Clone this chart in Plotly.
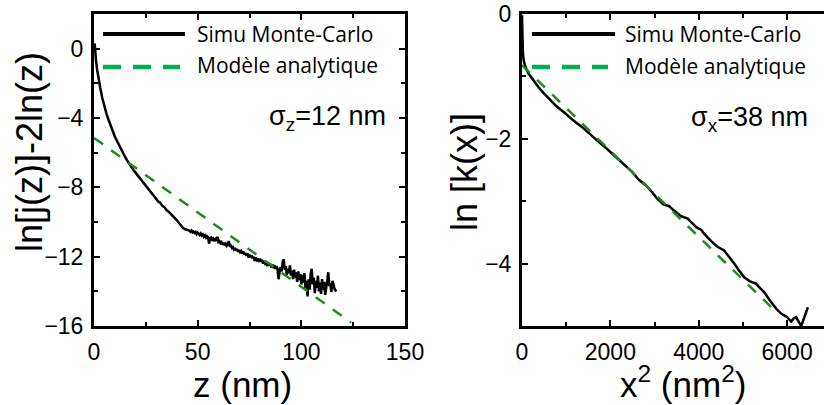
import plotly.graph_objects as go

# ---------------- data ----------------
# Left panel: ln[j(z)] - 2 ln(z) vs z (nm)
z_sim = [0.3, 0.6, 1.0, 1.5, 2.0, 3.0, 4.0, 5.0, 6.0, 7.0, 8.0, 9.0, 10, 11, 12, 13, 14, 15, 16, 17, 18, 19,
         20, 21, 22, 23, 24, 25, 26, 27, 28, 29, 30, 31, 32, 33, 34, 35, 36, 37, 38, 39, 40, 41, 42, 43, 44, 45,
         46, 46.5, 47, 47.5, 48, 48.5, 49, 49.5, 50, 50.5, 51, 51.5, 52, 52.5, 53, 53.5, 54, 54.5, 55, 55.5,
         56, 56.5, 57, 57.5, 58, 58.5, 59, 59.5, 60, 60.5, 61, 61.5, 62, 62.5, 63, 63.5, 64, 64.5, 65, 65.5,
         66, 66.5, 67, 67.5, 68, 68.5, 69, 69.5, 70, 70.5, 71, 71.5, 72, 72.5, 73, 73.5, 74, 74.5, 75, 75.5,
         76, 76.5, 77, 77.5, 78, 78.5, 79, 79.5, 80, 80.5, 81, 81.5, 82, 82.5, 83, 83.5, 84, 84.5, 85, 85.5,
         86, 86.5, 87, 87.5, 88, 88.5, 89, 89.5, 90, 90.5, 91, 91.5, 92, 92.5, 93, 93.5, 94, 94.5, 95, 95.5,
         96, 96.5, 97, 97.5, 98, 98.5, 99, 99.5, 100, 100.5, 101, 101.5, 102, 102.5, 103, 103.5, 104, 104.5,
         105, 105.5, 106, 106.5, 107, 107.5, 108, 108.5, 109, 109.5, 110, 110.5, 111, 111.5, 112, 112.5,
         113, 113.5, 114, 114.5, 115, 115.5, 116, 116.5, 117]
lnj_sim = [0.3, -0.3, -0.7, -1.2, -1.6, -2.25, -2.85, -3.35, -3.75, -4.1, -4.45, -4.75, -5.05, -5.3, -5.55,
           -5.8, -6.05, -6.25, -6.45, -6.65, -6.83, -7.0, -7.15, -7.3, -7.45, -7.62, -7.75, -7.9, -8.05, -8.2,
           -8.33, -8.52, -8.63, -8.82, -8.9, -9.07, -9.14, -9.32, -9.4, -9.52, -9.61, -9.77, -9.9, -10.06,
           -10.2, -10.35, -10.42, -10.45,
           -10.50, -10.56, -10.49, -10.60, -10.55, -10.63, -10.58, -10.70, -10.62, -10.68, -10.75, -10.66,
           -10.78, -10.72, -10.85, -10.77, -10.90, -10.82, -10.88, -11.25, -10.95, -10.90, -11.02, -10.96,
           -11.10, -11.00, -11.08, -10.85, -11.15, -11.10, -11.22, -11.16, -11.30, -11.20, -11.35, -11.26,
           -11.38, -11.30, -11.10, -11.42, -11.36, -11.50, -11.45, -11.58, -11.50, -11.65, -11.55, -11.72,
           -11.62, -11.75, -11.68, -11.82, -11.70, -11.88, -11.78, -11.95, -11.80, -12.05, -11.90, -12.02,
           -11.92, -12.10, -12.00, -12.25, -12.05, -12.18, -12.10, -12.30, -12.12, -12.28, -12.18, -12.40,
           -12.25, -12.38, -12.30, -12.55, -12.35, -12.50, -12.40, -12.62, -12.45, -12.58, -12.50, -12.70,
           -12.55,
           -12.70, -13.30, -12.90, -12.60, -12.85, -12.30, -12.15, -12.75, -12.55, -13.05, -12.70, -12.95,
           -12.50, -13.10, -12.80, -13.30, -12.75, -13.20, -12.90, -13.45, -12.85, -13.35, -13.00, -13.60,
           -13.05, -13.50, -12.95, -13.80, -13.40, -14.30, -13.30, -13.90, -13.00, -12.70, -13.60, -13.20,
           -14.10, -13.40, -13.80, -13.10, -14.00, -13.50, -14.15, -13.30, -13.90, -13.45, -14.20, -13.60,
           -13.40, -12.90, -13.70, -13.55, -14.05, -13.40, -13.75, -13.85, -13.95, -13.90]
z_model = [0, 124]
lnj_model = [-5.15, -15.8]

# Right panel: ln[k(x)] vs x^2 (nm^2)
x2_sim = [0, 3, 8, 20, 40, 80, 143, 250, 371, 480, 598, 780, 977, 1150, 1356, 1550, 1735, 1920, 2114, 2300,
          2492, 2650, 2795, 2950, 3061, 3200, 3330, 3439, 3600, 3750, 3818, 3950, 4060, 4121, 4280, 4424,
          4576, 4700, 4803, 4920, 5030, 5150, 5295, 5400, 5485, 5600, 5750, 5864, 6000, 6091, 6150, 6205,
          6280, 6318, 6360, 6394, 6470]
lnk_sim = [-0.02, -0.25, -0.45, -0.62, -0.75, -0.85, -0.95, -1.06, -1.17, -1.26, -1.35, -1.48, -1.59, -1.70,
           -1.81, -1.94, -2.05, -2.16, -2.29, -2.41, -2.53, -2.66, -2.74, -2.86, -2.96, -3.05, -3.08, -3.15,
           -3.24, -3.28, -3.33, -3.42, -3.46, -3.52, -3.64, -3.73, -3.79, -3.90, -4.00, -4.12, -4.22, -4.28,
           -4.32, -4.40, -4.46, -4.58, -4.72, -4.80, -4.86, -4.93, -4.88, -4.86, -4.97, -5.00, -4.92, -4.84,
           -4.70]
x2_model = [0, 5790]
lnk_model = [-0.82, -4.80]

# tick values
left_xticks = [0, 50, 100, 150]
left_yticks = [0, -4, -8, -12, -16]
right_xticks = [0, 2000, 4000, 6000]
right_yticks = [0, -2, -4]

legend_labels = ["Simu Monte-Carlo", "Modèle analytique"]

# ---------------- figure ----------------
W, H = 824, 405
def px(x):
    return x / W
def py(y):
    return 1 - y / H

BLACK = "#000000"
GREEN_LINE = "#1a8c1a"
GREEN_KEY = "#00b050"
TICKFONT = dict(family="Liberation Sans, Arial, sans-serif", size=23, color="black")

fig = go.Figure()
fig.add_trace(go.Scatter(x=z_sim, y=lnj_sim, mode="lines", line=dict(color=BLACK, width=2.5),
                         showlegend=False, xaxis="x", yaxis="y"))
fig.add_trace(go.Scatter(x=z_model, y=lnj_model, mode="lines",
                         line=dict(color=GREEN_LINE, width=2.5, dash="11px,10px"),
                         showlegend=False, xaxis="x", yaxis="y"))
fig.add_trace(go.Scatter(x=x2_sim, y=lnk_sim, mode="lines", line=dict(color=BLACK, width=2.5),
                         showlegend=False, xaxis="x2", yaxis="y2"))
fig.add_trace(go.Scatter(x=x2_model, y=lnk_model, mode="lines",
                         line=dict(color=GREEN_LINE, width=2.5, dash="11px,10px"),
                         showlegend=False, xaxis="x2", yaxis="y2"))

axis_common = dict(showgrid=False, zeroline=False, showline=True, linecolor="black", linewidth=3,
                   ticks="inside", ticklen=6, tickwidth=2, tickcolor="black", tickfont=TICKFONT,
                   automargin=False, ticklabelstandoff=3)

fig.update_layout(
    template="none",
    width=W, height=H, autosize=False,
    margin=dict(l=0, r=0, t=0, b=0, autoexpand=False),
    paper_bgcolor="white", plot_bgcolor="white",
    xaxis=dict(domain=[px(94), px(405)], range=[0, 150], tickvals=left_xticks, mirror="ticks",
               minor=dict(ticks="inside", ticklen=4, tickwidth=2, dtick=25, tickcolor="black"),
               anchor="y", **axis_common),
    yaxis=dict(domain=[py(326), py(14)], range=[-16, 2], tickvals=left_yticks, mirror="ticks",
               minor=dict(ticks="inside", ticklen=4, tickwidth=2, dtick=2, tickcolor="black"),
               anchor="x", **axis_common),
    xaxis2=dict(domain=[px(522), 1.0], range=[0, 6835], tickvals=right_xticks, mirror="ticks",
                minor=dict(ticks="inside", ticklen=4, tickwidth=2, dtick=1000, tickcolor="black"),
                anchor="y2", **axis_common),
    yaxis2=dict(domain=[py(326), py(14)], range=[-5, 0], tickvals=right_yticks, mirror=False,
                minor=dict(ticks="inside", ticklen=4, tickwidth=2, dtick=1, tickcolor="black"),
                anchor="x2", **axis_common),
)

TITLEFONT = dict(family="Liberation Sans, Arial, sans-serif", size=36, color="black")
XTITLEFONT = dict(family="Liberation Sans, Arial, sans-serif", size=35, color="black")
LEGFONT = dict(family="Open Sans, sans-serif", size=21, color="black")
SIGFONT = dict(family="Liberation Sans, Arial, sans-serif", size=27, color="black")

annotations = [
    dict(text="ln[j(z)]-2ln(z)", x=px(29), y=py(152), textangle=-90, font=TITLEFONT),
    dict(text="ln [k(x)]", x=px(464), y=py(172), textangle=-90, font=TITLEFONT),
    dict(text="z (nm)", x=px(243), y=0, yanchor="bottom", font=XTITLEFONT),
    dict(text="x<sup>2</sup> (nm<sup>2</sup>)", x=px(683), y=0, yanchor="bottom", font=XTITLEFONT),
    dict(text="σ<sub>z</sub>=12 nm", x=px(268), y=py(118), xanchor="left", font=SIGFONT),
    dict(text="σ<sub>x</sub>=38 nm", x=px(690), y=py(119), xanchor="left", font=SIGFONT),
    dict(text=legend_labels[0], x=px(196), y=py(34), xanchor="left", font=LEGFONT),
    dict(text=legend_labels[1], x=px(196), y=py(65), xanchor="left", font=LEGFONT),
    dict(text=legend_labels[0], x=px(624), y=py(34), xanchor="left", font=LEGFONT),
    dict(text=legend_labels[1], x=px(624), y=py(66), xanchor="left", font=LEGFONT),
]
for a in annotations:
    a.update(xref="paper", yref="paper", showarrow=False, borderpad=0)
    a.setdefault("xanchor", "center")
    a.setdefault("yanchor", "middle")
fig.update_layout(annotations=annotations)

# legend keys
shapes = [
    dict(type="line", x0=px(103), x1=px(185), y0=py(34), y1=py(34), line=dict(color=BLACK, width=4)),
    dict(type="line", x0=px(103), x1=px(180), y0=py(67), y1=py(67),
         line=dict(color=GREEN_KEY, width=4.5, dash="18px,12px")),
    dict(type="line", x0=px(532), x1=px(615), y0=py(34), y1=py(34), line=dict(color=BLACK, width=4)),
    dict(type="line", x0=px(532), x1=px(608), y0=py(67), y1=py(67),
         line=dict(color=GREEN_KEY, width=4.5, dash="18px,12px")),
]
for s in shapes:
    s.update(xref="paper", yref="paper")
fig.update_layout(shapes=shapes)

fig.write_html("out.html", config={"displayModeBar": False},
               post_script="document.body.style.margin='0';document.body.style.overflow='hidden';")
